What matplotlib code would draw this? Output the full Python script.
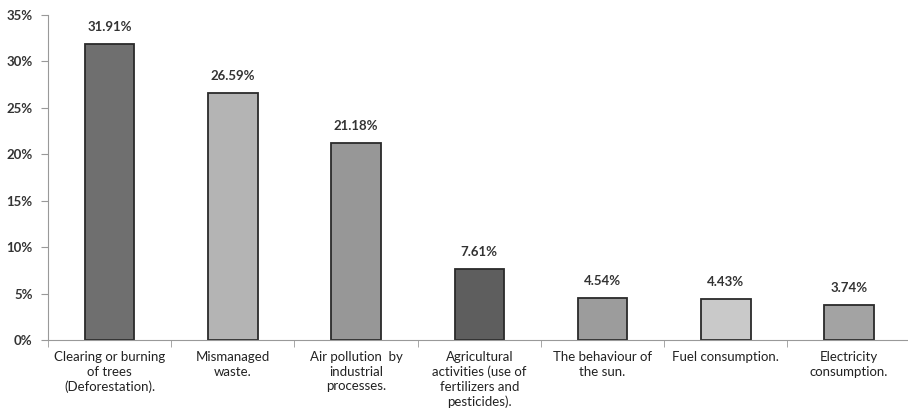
import matplotlib.pyplot as plt
import numpy as np

causes = ['Clearing or burning\nof trees\n(Deforestation).', 'Mismanaged\nwaste.',
          'Air pollution  by\nindustrial\nprocesses.',
          'Agricultural\nactivities (use of\nfertilizers and\npesticides).',
          'The behaviour of\nthe sun.', 'Fuel consumption.', 'Electricity\nconsumption.']
percent = [31.91, 26.59, 21.18, 7.61, 4.54, 4.43, 3.74]
bar_colors = ['#6f6f6f', '#b4b4b4', '#979797', '#5e5e5e', '#9c9c9c', '#c9c9c9', '#a3a3a3']

plt.rcParams['font.family'] = ['Lato', 'DejaVu Sans']

fig = plt.figure(figsize=(9.08, 4.2), dpi=100)
ax = fig.add_axes([48 / 908, 80 / 420, 1 - 48 / 908 + 0.003, 325 / 420])

x = np.arange(len(causes))
ax.bar(x, percent, width=0.4, color=bar_colors, edgecolor='#2a2a2a', linewidth=1.3)

for xi, v in zip(x, percent):
    ax.text(xi, v + 1.2, f'{v:.2f}%', ha='center', va='bottom', fontsize=9.5,
            fontweight='bold', color='#333333')

ax.set_xlim(-0.5, len(causes) - 0.5)
ax.set_ylim(0, 35)
ax.set_yticks(range(0, 36, 5))
ax.set_yticklabels([f'{t}%' for t in range(0, 36, 5)], fontsize=9.5,
                   fontweight='bold', color='#333333')
ax.set_xticks(x)
ax.set_xticklabels(causes, fontsize=9.5, color='#222222', linespacing=1.25)
ax.set_xticks(np.arange(-0.5, len(causes), 1), minor=True)
ax.tick_params(axis='x', which='major', length=0, pad=8)
ax.tick_params(axis='x', which='minor', length=5, color='#999999')
ax.tick_params(axis='y', length=5, color='#999999', pad=6)

for s in ['top', 'right']:
    ax.spines[s].set_visible(False)
ax.spines['left'].set_color('#999999')
ax.spines['bottom'].set_color('#999999')

fig.savefig('out.png', dpi=100)
